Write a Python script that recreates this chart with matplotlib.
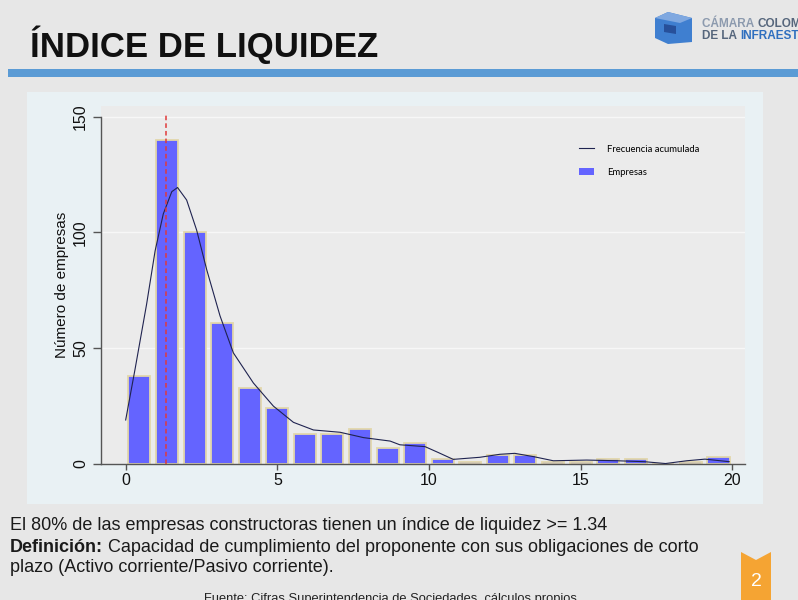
import numpy as np
import matplotlib.pyplot as plt
from matplotlib.patches import Rectangle, Polygon, Patch
from matplotlib.lines import Line2D

# histogram: 22 bins between 0 and 20
x_min, x_max, n_bins = 0, 20, 22
counts = [38, 140, 100, 61, 33, 24, 13, 13, 15, 7, 9,
          2, 1, 4, 4, 1, 1, 2, 2, 0, 1, 3]

# "Frecuencia acumulada" line
curve_x = [0.0, 0.31, 0.69, 0.97, 1.24, 1.52, 1.71, 2.01, 2.34, 2.67, 3.11, 3.55,
           4.21, 4.87, 5.53, 6.19, 7.07, 7.84, 8.72, 9.04, 9.87, 10.3, 10.8,
           11.68, 12.34, 12.83, 13.44, 14.1, 15.2, 16.2, 17.1, 17.8, 18.5, 19.1, 19.9]
curve_y = [19, 41, 69, 92, 108, 117.6, 119.4, 114, 101, 84, 64, 48,
           35, 25, 18, 14.7, 13.7, 11.4, 9.9, 8.3, 7.5, 5.0, 2.0,
           2.9, 4.2, 4.6, 3.2, 1.4, 1.7, 1.4, 1.0, 0.2, 1.4, 2.1, 1.0]

p80 = 1.34
yticks = [0, 50, 100, 150]
xticks = [0, 5, 10, 15, 20]

W, H = 798, 600
fig = plt.figure(figsize=(W / 100, H / 100), dpi=100)
fig.patch.set_facecolor('#e7e7e7')

# full-figure axes in pixel units for the slide decoration
deco = fig.add_axes([0, 0, 1, 1], zorder=-1)
deco.set_xlim(0, W)
deco.set_ylim(H, 0)
deco.axis('off')

# blue rule under the header
deco.add_patch(Rectangle((8, 69), W - 8, 8, color='#5b9bd5', lw=0))
# light panel behind the chart
deco.add_patch(Rectangle((27, 92), 736, 412, color='#e9f1f4', lw=0))

sans = ['Liberation Sans', 'DejaVu Sans']
deco.text(30, 57, 'ÍNDICE DE LIQUIDEZ', family=sans, weight='bold',
          fontsize=25, color='#111111', va='baseline', ha='left')

# logo icon
deco.add_patch(Polygon([(655, 18), (668, 12), (692, 18), (692, 42), (668, 44), (655, 38)],
                       closed=True, color='#3f7fd0', lw=0))
deco.add_patch(Polygon([(655, 18), (668, 12), (692, 18), (680, 23)], closed=True,
                       color='#7fa8e0', lw=0))
deco.add_patch(Polygon([(664, 24), (676, 26), (676, 34), (664, 32)], closed=True,
                       color='#27509a', lw=0))

fig.canvas.draw()
renderer = fig.canvas.get_renderer()


def after(prev, text, **kw):
    # place a text right after a previous one on the same line
    bb = prev.get_window_extent(renderer).transformed(deco.transData.inverted())
    x, y = prev.get_position()
    return deco.text(bb.x1, y, text, **kw)


t = deco.text(702, 27, 'CÁMARA ', family=sans, weight='bold', fontsize=8.5,
              color='#8c9aae', va='baseline')
after(t, 'COLOMBIANA', family=sans, weight='bold', fontsize=8.5,
      color='#56667c', va='baseline')
t = deco.text(702, 39, 'DE LA ', family=sans, weight='bold', fontsize=8.5,
              color='#56667c', va='baseline')
after(t, 'INFRAESTRUCTURA', family=sans, weight='bold', fontsize=8.5,
      color='#2f6fbf', va='baseline')

deco.text(10, 525, 'El 80% de las empresas constructoras tienen un índice de liquidez >= 1.34',
          family=sans, fontsize=13, color='#1a1a1a', va='center')
t = deco.text(10, 547, 'Definición:', family=sans, fontsize=13, weight='bold',
              color='#1a1a1a', va='center')
after(t, ' Capacidad de cumplimiento del proponente con sus obligaciones de corto',
      family=sans, fontsize=13, color='#1a1a1a', va='center')
deco.text(10, 568, 'plazo (Activo corriente/Pasivo corriente).',
          family=sans, fontsize=13, color='#1a1a1a', va='center')
deco.text(390, 599, 'Fuente: Cifras Superintendencia de Sociedades, cálculos propios',
          family=sans, fontsize=9.3, color='#222222', va='center', ha='center')

# page marker
deco.add_patch(Polygon([(741, 552), (756, 560), (771, 552), (771, 600), (741, 600)],
                       closed=True, color='#f5a433', lw=0))
deco.text(756, 582, '2', family=sans, fontsize=14, color='white', ha='center', va='center')

# chart
ax = fig.add_axes([100.5 / W, 1 - 464 / H, 644.5 / W, 358 / H])
ax.set_facecolor('#ebebeb')
bin_w = (x_max - x_min) / n_bins
left_edges = x_min + bin_w * np.arange(n_bins)
ax.bar(left_edges + bin_w / 2, counts, width=bin_w * 0.8, color='#6464ff',
       edgecolor='#e2d7ab', linewidth=1.3, zorder=2, label='Empresas')
ax.plot(curve_x, curve_y, color='#1f2350', lw=0.8, zorder=3, label='Frecuencia acumulada')
ax.axvline(p80, ymin=0, ymax=151.5 / 154.6, color='#e03a3a', lw=1.1,
           ls=(0, (3, 2)), zorder=4)

ax.set_xlim(-0.83, 20.42)
ax.set_ylim(0, 154.6)
for v in yticks[1:]:
    ax.axhline(v, color='#f7f7f7', lw=1, zorder=1)

for s in ['top', 'right']:
    ax.spines[s].set_visible(False)
ax.spines['left'].set_bounds(0, 150)
for s in ['left', 'bottom']:
    ax.spines[s].set_color('#555555')
    ax.spines[s].set_linewidth(1)

ax.set_xticks(xticks)
ax.set_yticks(yticks)
ax.tick_params(axis='x', length=4.5, width=1, color='#555555', pad=2,
               labelsize=11.5, labelcolor='#111111')
ax.tick_params(axis='y', length=6, width=1, color='#555555', pad=3,
               labelsize=11.5, labelcolor='#111111', labelrotation=90)
for lab in ax.get_yticklabels():
    lab.set_va('center')
    lab.set_family(sans)
for lab in ax.get_xticklabels():
    lab.set_family(sans)
ax.set_ylabel('Número de empresas', family=sans, fontsize=11, color='#111111', labelpad=3)

handles = [Line2D([], [], color='#1f2350', lw=0.8),
           Patch(facecolor='#6464ff', edgecolor='none')]
ax.legend(handles, ['Frecuencia acumulada', 'Empresas'], loc='upper left',
          bbox_to_anchor=(570 / W, 1 - 136 / H), bbox_transform=fig.transFigure,
          frameon=False, prop={'family': ['Lato', 'DejaVu Sans'], 'size': 6.8},
          handlelength=1.6, handleheight=0.7, handletextpad=1.4, labelspacing=1.5)

fig.savefig('out.png', dpi=100, facecolor=fig.get_facecolor())
